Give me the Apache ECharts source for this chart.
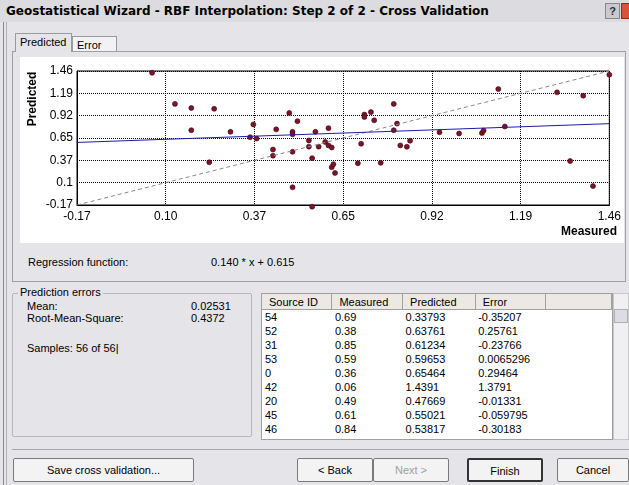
<!DOCTYPE html>
<html>
<head>
<meta charset="utf-8">
<script src="https://cdn.jsdelivr.net/npm/echarts@6/dist/echarts.min.js"></script>
<style>
  body { margin: 0; width: 629px; height: 485px; overflow: hidden; background: #e5e4e9;
         font: 11px "Liberation Sans", Arial, sans-serif; color: #000; position: relative; }
  .abs { position: absolute; }
  .titlebar { left: 0; top: 0; width: 629px; height: 22px; background: #dcdbe0; }
  .title { left: 6px; top: 4px; font: bold 12px "DejaVu Sans", sans-serif; white-space: nowrap; }
  .tab { border: 1px solid #9a9a9a; border-bottom: none; background: #f2f2f4; padding: 2px 4px 0 4px; box-sizing: border-box; }
  .panel { left: 12px; top: 51px; width: 614px; height: 231px; border: 1px solid #a0a0a0; box-sizing: border-box; }
  #chart { left: 20px; top: 57px; width: 604px; height: 186px; background: #fff; }
  .group { left: 12px; top: 293px; width: 240px; height: 144px; border: 1px solid #b8b8b8; border-radius: 2px; box-sizing: border-box; }
  table { border-collapse: collapse; font-size: 11px; }
  td { height: 14px; padding: 0 0 0 3px; white-space: nowrap; }
  th { font-weight: normal; text-align: left; padding: 0 0 0 7px; height: 15px; background: #ece9e4;
       border-right: 1px solid #a0a0a0; border-bottom: 1px solid #a0a0a0; }
  .btn { top: 458px; height: 24px; border: 1px solid #7a7a7a; border-radius: 2px; background: #f3f3f3;
         box-sizing: border-box; text-align: center; line-height: 22px; }
</style>
</head>
<body>
<div class="abs titlebar"></div>
<div class="abs title">Geostatistical Wizard - RBF Interpolation: Step 2 of 2 - Cross Validation</div>
<div class="abs" style="left:605px;top:3px;width:15px;height:16px;background:#c9c9cf;border:1px solid #888;box-sizing:border-box;text-align:center;font:bold 11px Arial;line-height:14px;color:#234">?</div>
<div class="abs" style="left:621px;top:3px;width:10px;height:16px;background:#d8533a;border:1px solid #8a2b1c;box-sizing:border-box"></div>
<div class="abs" style="left:3px;top:22px;width:1px;height:463px;background:#8a8a8a"></div>
<div class="abs" style="left:6px;top:22px;width:1px;height:463px;background:#b0b0b0"></div>

<div class="abs panel"></div>
<div class="abs tab" style="left:15px;top:33px;width:57px;height:19px;background:#e5e4e9">Predicted</div>
<div class="abs tab" style="left:72px;top:36px;width:45px;height:15px">Error</div>
<div id="chart" class="abs"></div>
<div class="abs" style="left:28px;top:256px">Regression function:</div>
<div class="abs" id="regText" style="left:211px;top:256px"></div>

<div class="abs group"></div>
<div class="abs" style="left:18px;top:286px;background:#e5e4e9;padding:0 2px">Prediction errors</div>
<div class="abs" style="left:27px;top:300px">Mean:</div>
<div class="abs" style="left:27px;top:312px">Root-Mean-Square:</div>
<div class="abs" id="meanText" style="left:191px;top:300px"></div>
<div class="abs" id="rmsText" style="left:191px;top:312px"></div>
<div class="abs" id="samplesText" style="left:27px;top:342px"></div>

<div class="abs" style="left:261px;top:293px;width:352px;height:147px;background:#fff;border:1px solid #a0a0a0;box-sizing:border-box;overflow:hidden">
  <table id="tbl"></table>
</div>
<div class="abs" style="left:613px;top:293px;width:16px;height:147px;background:#f0f0f2;border:1px solid #c8c8c8;box-sizing:border-box"></div>
<div class="abs" style="left:614px;top:309px;width:14px;height:14px;background:#dcdce4;border:1px solid #b0b0b8;box-sizing:border-box"></div>

<div class="abs" style="left:12px;top:449px;width:617px;height:1px;background:#a8a8a8"></div>
<div class="abs btn" style="left:13px;width:181px">Save cross validation...</div>
<div class="abs btn" style="left:297px;width:76px">&lt; Back</div>
<div class="abs btn" style="left:373px;width:76px;color:#a0a0a0">Next &gt;</div>
<div class="abs btn" style="left:467px;width:76px;border:2px solid #333">Finish</div>
<div class="abs btn" style="left:557px;width:72px">Cancel</div>

<script>
// axis ticks
var xTickLabels = ['-0.17', '0.10', '0.37', '0.65', '0.92', '1.19', '1.46']
var yTickLabels = ['-0.17', '0.1', '0.37', '0.65', '0.92', '1.19', '1.46']
var axisMin = -0.17
var axisMax = 1.46

// scatter: measured vs predicted
var measured = [
  0.06, 0.13, 0.18, 0.18, 0.235,
  0.25, 0.30, 0.37, 0.36, 0.38, 0.43, 0.43, 0.44, 0.48, 0.505, 0.49, 0.49, 0.49, 0.49,
  0.54, 0.54, 0.55, 0.55, 0.56, 0.57, 0.59, 0.60, 0.60, 0.61, 0.61, 0.615, 0.62,
  0.80, 0.71, 0.71, 0.73, 0.74, 0.81, 0.80, 0.70, 0.69, 0.76, 0.82, 0.84, 0.85, 0.94, 1.00,
  1.12, 1.14, 1.07, 1.075, 1.30, 1.38, 1.46, 1.34, 1.41
]
var predicted = [
  1.439, 1.06, 1.01, 0.74, 0.35,
  1.00, 0.72, 0.81, 0.655, 0.638, 0.505, 0.43, 0.75, 0.95, 0.85, 0.72, 0.69, 0.477, 0.045,
  0.615, 0.54, 0.40, -0.19, 0.72, 0.54, 0.597, 0.765, 0.555, 0.53, 0.29, 0.325, 0.22,
  1.06, 0.93, 0.90, 0.96, 0.86, 0.82, 0.74, 0.575, 0.338, 0.343, 0.555, 0.538, 0.612, 0.715, 0.70,
  1.24, 0.785, 0.705, 0.735, 1.20, 1.16, 1.415, 0.365, 0.06
]

// regression function: slope, intercept
var regression = [0.140, 0.615]

// summary
var meanError = '0.02531'
var rmsError = '0.4372'
var samples = [56, 56]

// table rows
var tableIds = ['54', '52', '31', '53', '0', '42', '20', '45', '46']
var tableMeasured = ['0.69', '0.38', '0.85', '0.59', '0.36', '0.06', '0.49', '0.61', '0.84']
var tablePredicted = ['0.33793', '0.63761', '0.61234', '0.59653', '0.65464', '1.4391', '0.47669', '0.55021', '0.53817']
var tableError = ['-0.35207', '0.25761', '-0.23766', '0.0065296', '0.29464', '1.3791', '-0.01331', '-0.059795', '-0.30183']

document.getElementById('regText').textContent = regression[0].toFixed(3) + ' * x + ' + regression[1].toFixed(3)
document.getElementById('meanText').textContent = meanError
document.getElementById('rmsText').textContent = rmsError
document.getElementById('samplesText').textContent = 'Samples: ' + samples[0] + ' of ' + samples[1] + '|'

var html = '<tr><th style="width:63px">Source ID</th><th style="width:63px">Measured</th><th style="width:65px">Predicted</th><th style="width:63px">Error</th><th style="width:59px"></th></tr>'
for (var i = 0; i < tableIds.length; i++) {
  html += '<tr><td>' + tableIds[i] + '</td><td>' + tableMeasured[i] + '</td><td>' + tablePredicted[i] +
    '</td><td>' + tableError[i] + '</td><td></td></tr>'
}
document.getElementById('tbl').innerHTML = html

var step = (axisMax - axisMin) / 6
var points = measured.map(function(m, i) { return [m, predicted[i]] })
var regLine = [
  [axisMin, regression[0] * axisMin + regression[1]],
  [axisMax, regression[0] * axisMax + regression[1]]
]
var idLine = [[axisMin, axisMin], [axisMax, axisMax]]

function tickIndex(v) { return Math.round((v - axisMin) / step) }

var axisCommon = {
  type: 'value',
  min: axisMin,
  max: axisMax,
  interval: step,
  axisLine: { show: true, onZero: false, lineStyle: { color: '#000', width: 1 } },
  axisTick: { show: false },
  splitLine: { show: true, lineStyle: { color: '#000', type: [1, 1], width: 1 } }
}

var chart = echarts.init(document.getElementById('chart'))
chart.setOption({
  animation: false,
  grid: { left: 57, top: 14, width: 540, height: 134, show: true, borderColor: '#000', borderWidth: 1 },
  xAxis: Object.assign({}, axisCommon, {
    axisLabel: {
      color: '#000', fontSize: 12, fontFamily: 'Liberation Sans', margin: 6, showMaxLabel: true, showMinLabel: true,
      formatter: function(v) { return xTickLabels[tickIndex(v)] }
    }
  }),
  yAxis: Object.assign({}, axisCommon, {
    axisLabel: {
      color: '#000', fontSize: 12, fontFamily: 'Liberation Sans', margin: 4, showMaxLabel: true, showMinLabel: true,
      formatter: function(v) { return yTickLabels[tickIndex(v)] }
    }
  }),
  graphic: [
    { type: 'text', x: 13, y: 42, rotation: Math.PI / 2,
      style: { text: 'Predicted', font: 'bold 12px "Liberation Sans"', fill: '#000', align: 'center', verticalAlign: 'middle' } },
    { type: 'text', right: 7, top: 169,
      style: { text: 'Measured', font: 'bold 12px "Liberation Sans"', fill: '#000' } }
  ],
  series: [
    {
      type: 'line', data: idLine, symbol: 'none', silent: true,
      lineStyle: { color: '#8a8a8a', width: 1, type: [4, 3] }
    },
    {
      type: 'line', data: regLine, symbol: 'none', silent: true,
      lineStyle: { color: '#1c1ca6', width: 1 }
    },
    {
      type: 'scatter', data: points, symbol: 'circle', symbolSize: 5, clip: false,
      itemStyle: { color: '#7d1428', borderColor: '#3b0810', borderWidth: 0.6, opacity: 1 }
    }
  ]
})
</script>
</body>
</html>
